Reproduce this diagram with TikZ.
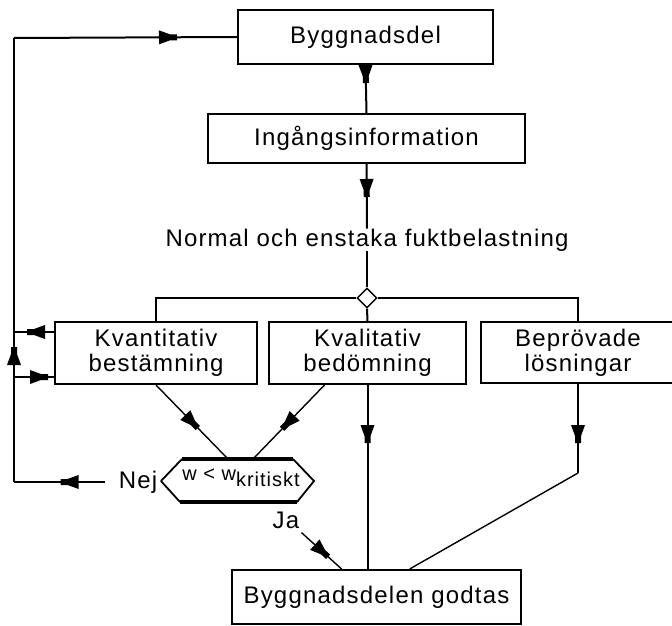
\documentclass[tikz,border=0pt]{standalone}
\usepackage{fontspec}
\setmainfont{Liberation Sans}[LetterSpace=5]
\usetikzlibrary{decorations.markings,calc,shapes.geometric}

\tikzset{
  box/.style={draw, line width=2pt, rectangle, inner sep=0pt, align=center,
    font=\fontsize{24}{25}\selectfont},
  lbl/.style={inner sep=0pt, font=\fontsize{24}{25}\selectfont},
  conn/.style={line width=2pt},
  diag/.style={line width=1.4pt},
  arrowat/.style={postaction={decorate}, decoration={markings,
    mark=at position #1 with {\fill (-10pt,-7pt) -- (1pt,-3pt) -- (8pt,-3pt)
      -- (8pt,3pt) -- (1pt,3pt) -- (-10pt,7pt) -- cycle;}}},
}

\begin{document}
\begin{tikzpicture}[x=1pt,y=-1pt]
\useasboundingbox (0,0) rectangle (672,626);
\fill[white] (0,0) rectangle (672,626);

% nodes
\node[box, minimum width=255, minimum height=54] (bd) at (365.5,37) {Byggnadsdel};
\node[box, minimum width=317, minimum height=49] (ii) at (366.5,138.5) {Ingångsinformation};
\node[lbl] (nt) at (367,240) {Normal och enstaka fuktbelastning};
\node[draw, diamond, line width=1.4pt, fill=white, minimum size=20, inner sep=0pt] (dia) at (367,298) {};
\node[box, minimum width=202, minimum height=62] (kv) at (156,353) {Kvantitativ\\bestämning};
\node[box, minimum width=197, minimum height=62] (kl) at (367.5,353) {Kvalitativ\\bedömning};
\node[box, minimum width=194, minimum height=61] (bp) at (578,352.5) {Beprövade\\lösningar};
\node[box, minimum width=289, minimum height=54] (god) at (376.5,597) {Byggnadsdelen godtas};

% hexagon decision
\coordinate (h1) at (161,481);
\coordinate (h2) at (182,459);
\coordinate (h3) at (293,459);
\coordinate (h4) at (314,481);
\coordinate (h5) at (297,502);
\coordinate (h6) at (180,502);
\draw[line width=1.8pt, line join=miter] (h1) -- (h2) (h3) -- (h4) -- (h5) (h6) -- (h1);
\draw[line width=3.2pt] (h2) -- (h3) (h5) -- (h6);
\node[inner sep=0pt, font=\fontsize{20}{21}\selectfont] (hx) at (241,478) {w < w\raisebox{-6pt}{kritiskt}};
\coordinate (ht1) at (228,459);
\coordinate (ht2) at (253,459);

\node[lbl, inner xsep=14pt] (nej) at (138,482) {Nej};
\node[lbl] (ja) at (286,520) {Ja};

% loop coordinates
\coordinate (c1) at (14,482);
\coordinate (c2) at (14,38);
\coordinate (L1) at (14,332);
\coordinate (L2) at (14,377);
\coordinate (bk) at (578,473);

% main chain
\draw[conn, arrowat=10pt] (bd.south) -- (ii.north);
\draw[conn, arrowat=25pt] (ii.south) -- (nt.north);
\draw[conn] (nt.south) -- (dia.north);
\draw[conn] (dia.west) -| (kv.north);
\draw[conn] (dia.east) -| (bp.north);
\draw[conn] (dia.south) -- (kl.north);

% to decision
\draw[diag, arrowat=52pt] (kv.south) -- (ht1);
\draw[diag, arrowat=53pt] ($(kl.south west)!0.284!(kl.south east)$) -- (ht2);

% to accepted
\draw[conn, arrowat=50pt] (kl.south) -- (kl.south |- god.north);
\draw[conn, arrowat=51pt] (bp.south) -- (bk);
\draw[diag] (bk) -- ($(god.north west)!0.614!(god.north east)$);
\draw[diag, arrowat=28pt] (ja.south east) ++(2,4) -- ($(god.north west)!0.38!(god.north east)$);

% feedback loop
\draw[conn, arrowat=36pt] (nej.west) -- (c1);
\draw[conn, arrowat=127pt] (c1) -- (c2);
\draw[conn, arrowat=155pt] (c2) -- (bd.west);
\draw[conn, arrowat=19pt] (kv.west |- L1) -- (L1);
\draw[conn, arrowat=26pt] (L2) -- (kv.west |- L2);
\end{tikzpicture}
\end{document}
